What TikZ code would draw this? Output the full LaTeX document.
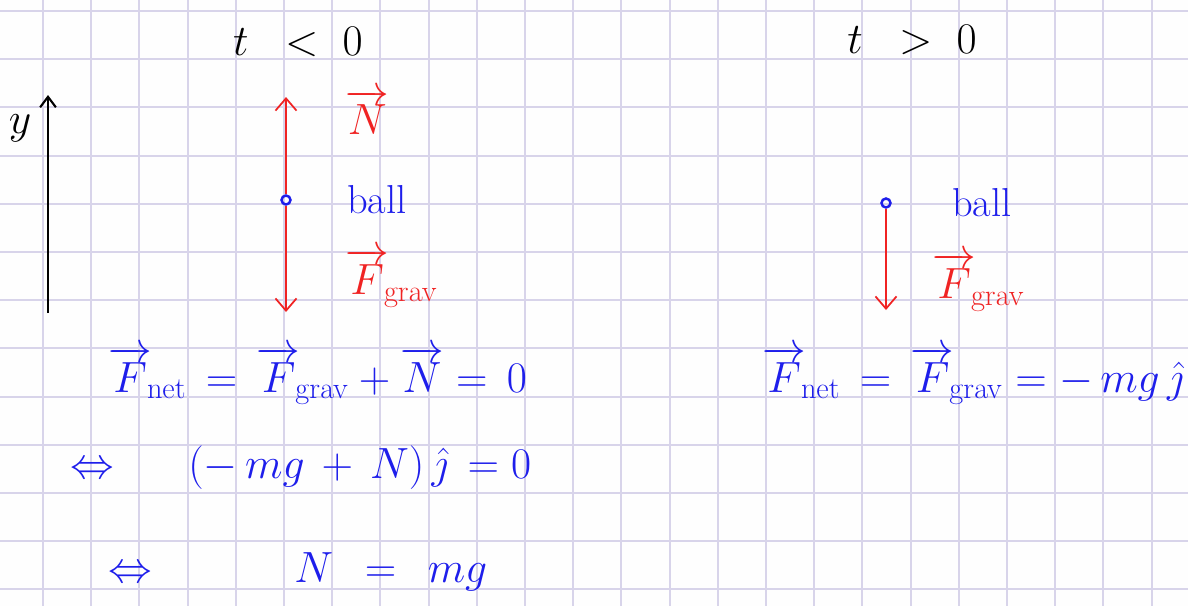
\documentclass[tikz,border=0pt]{standalone}
\usepackage{amsmath,amssymb}
\usepackage{tikz}
\usetikzlibrary{arrows.meta,positioning}

\definecolor{penblue}{RGB}{30,30,235}
\definecolor{penred}{RGB}{240,35,35}
\definecolor{gridlilac}{RGB}{216,212,234}
\definecolor{paper}{RGB}{254,254,254}

\begin{document}
\begin{tikzpicture}[
    x=0.02cm, y=-0.02cm,
    gridline/.style={draw=gridlilac, line width=1.1pt},
    hand/.style={font=\fontsize{23}{27}\selectfont, inner sep=0pt},
    bluetext/.style={hand, text=penblue},
    redtext/.style={hand, text=penred},
    blacktext/.style={hand, text=black},
    ballmark/.style={circle, draw=penblue, line width=1.4pt, minimum size=0.18cm, inner sep=0pt},
    force/.style={draw=penred, line width=1pt, -{Straight Barb[length=7pt,width=12pt]}},
    axis/.style={draw=black, line width=1.2pt, -{Straight Barb[length=6pt,width=9pt]}}
]

% Paper
\fill[paper] (0,0) rectangle (1188,606);
\useasboundingbox (0,0) rectangle (1188,606);
\foreach \k in {0,...,23}
  \draw[gridline] (43+48.2*\k,0) -- (43+48.2*\k,606);
\foreach \k in {0,...,12}
  \draw[gridline] (0,11+48.2*\k) -- (1188,11+48.2*\k);

% Headings
\node[blacktext] (before) at (298,42) {$t\;\;<\;0$};
\node[blacktext] (after) at (912,40) {$t\;\;>\;0$};

% Axis
\coordinate (axbot) at (48,313);
\coordinate (axtop) at (48,95);
\node[blacktext] (ylbl) at (20,128) {$y$};

% Nodes, t<0
\node[ballmark] (ballL) at (286,200) {};
\coordinate (ntip) at (286,97);
\coordinate (gtipL) at (286,312);
\node[bluetext, right=1.1cm of ballL] (ballLlbl) {ball};
\node[redtext, anchor=west] (nlbl) at (345,112) {$\overrightarrow{N}$};
\node[redtext, anchor=west] (glblL) at (345,278) {$\overrightarrow{F}_{\!\mathrm{grav}}$};

% Nodes, t>0
\node[ballmark] (ballR) at (886,203) {};
\coordinate (gtipR) at (886,310);
\node[bluetext, right=1.2cm of ballR] (ballRlbl) {ball};
\node[redtext, anchor=west] (glblR) at (932,282) {$\overrightarrow{F}_{\!\mathrm{grav}}$};

% Equations
\node[bluetext, anchor=base west] (eqA) at (108,392)
  {$\overrightarrow{F}_{\!\mathrm{net}}\,=\,\overrightarrow{F}_{\!\mathrm{grav}}+\overrightarrow{N}=\,0$};
\node[bluetext, anchor=base west] (iffA) at (70,478) {$\Leftrightarrow$};
\node[bluetext, anchor=base west] (eqB) at (188,478) {$(-\,mg\,+\,N)\,\hat{\jmath}\,=0$};
\node[bluetext, anchor=base west] (iffB) at (108,582) {$\Leftrightarrow$};
\node[bluetext, anchor=base west] (eqC) at (294,582) {$N\;\,=\;\,mg$};
\node[bluetext, anchor=base west] (eqD) at (762,392)
  {$\overrightarrow{F}_{\!\mathrm{net}}\,=\,\overrightarrow{F}_{\!\mathrm{grav}}=-\,mg\,\hat{\jmath}$};

% Connections
\draw[axis] (axbot) -- (axtop);
\draw[force] (ballL.north) -- (ntip);
\draw[force] (ballL.south) -- (gtipL);
\draw[force] (ballR.south) -- (gtipR);

\end{tikzpicture}
\end{document}
